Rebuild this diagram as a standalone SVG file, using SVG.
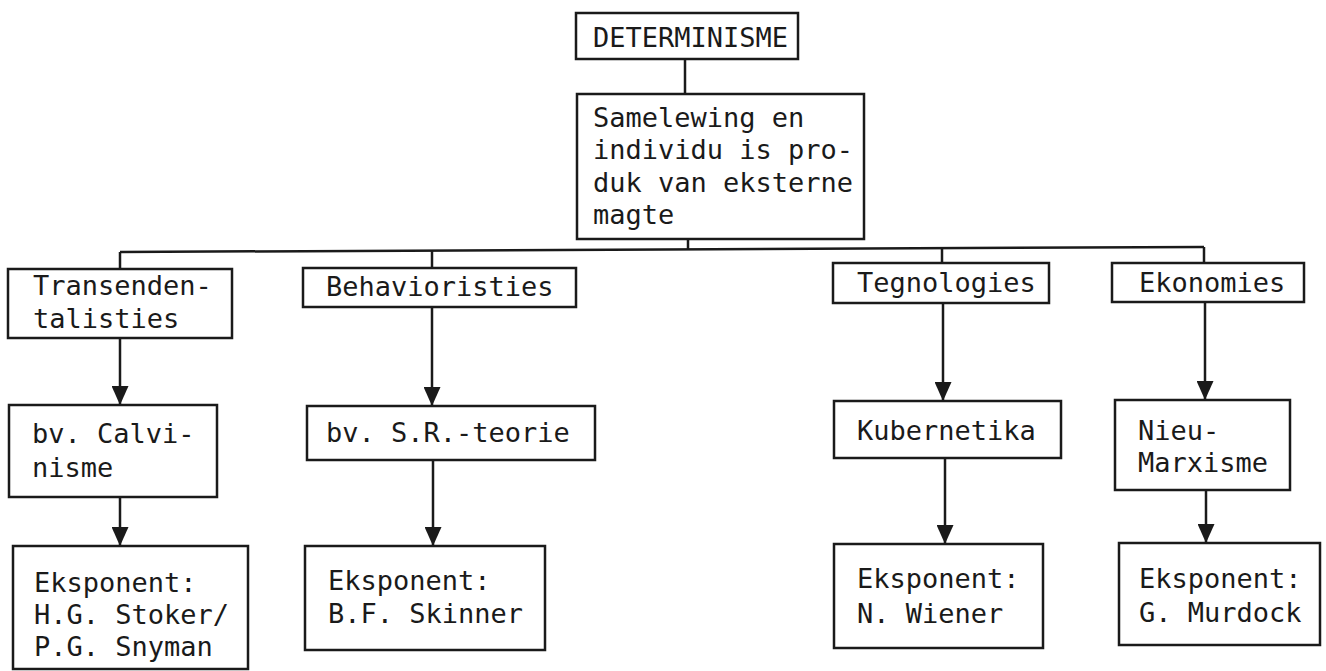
<svg xmlns="http://www.w3.org/2000/svg" width="1326" height="671" viewBox="0 0 1326 671">
<defs>
<style>
.box{fill:#fff;stroke:#1a1a1a;stroke-width:2.5}
.t{font-family:"DejaVu Sans Mono","Liberation Mono",monospace;font-size:27px;fill:#1a1a1a}
.c{stroke:#1a1a1a;stroke-width:2.5;fill:none}
</style>
<marker id="ah" viewBox="0 0 19 17" refX="19" refY="8.5" markerWidth="19" markerHeight="17" markerUnits="userSpaceOnUse" orient="auto">
<path d="M0,0 L19,8.5 L0,17 z" fill="#1a1a1a"/>
</marker>
</defs>
<rect width="1326" height="671" fill="#fff"/>
<g id="connectors">
<line class="c" x1="685" y1="59" x2="685" y2="94"/>
<line class="c" x1="688" y1="239" x2="688" y2="250"/>
<line class="c" x1="120" y1="252" x2="1204" y2="247"/>
<line class="c" x1="120" y1="252" x2="120" y2="269"/>
<line class="c" x1="432" y1="250.6" x2="432" y2="268"/>
<line class="c" x1="942" y1="248.2" x2="942" y2="263"/>
<line class="c" x1="1204" y1="247" x2="1204" y2="263"/>
<line class="c" x1="120" y1="338" x2="120" y2="405" marker-end="url(#ah)"/>
<line class="c" x1="120" y1="497" x2="120" y2="546" marker-end="url(#ah)"/>
<line class="c" x1="432" y1="307" x2="432" y2="406" marker-end="url(#ah)"/>
<line class="c" x1="433" y1="460" x2="433" y2="546" marker-end="url(#ah)"/>
<line class="c" x1="943" y1="303" x2="943" y2="401" marker-end="url(#ah)"/>
<line class="c" x1="945" y1="458" x2="945" y2="544" marker-end="url(#ah)"/>
<line class="c" x1="1205" y1="302" x2="1205" y2="400" marker-end="url(#ah)"/>
<line class="c" x1="1206" y1="490" x2="1206" y2="543" marker-end="url(#ah)"/>
</g>
<g id="determinisme">
<rect class="box" x="576" y="13" width="222" height="46"/>
<text class="t" x="593" y="47">DETERMINISME</text>
</g>
<g id="samelewing">
<rect class="box" x="577" y="94" width="287" height="145"/>
<text class="t" x="593" y="127">Samelewing en</text>
<text class="t" x="593" y="159">individu is pro-</text>
<text class="t" x="593" y="192">duk van eksterne</text>
<text class="t" x="593" y="224">magte</text>
</g>
<g id="transendentalisties">
<rect class="box" x="8" y="269" width="224" height="69"/>
<text class="t" x="33" y="295">Transenden-</text>
<text class="t" x="33" y="328">talisties</text>
</g>
<g id="behavioristies">
<rect class="box" x="303" y="268" width="273" height="39"/>
<text class="t" x="326" y="296">Behavioristies</text>
</g>
<g id="tegnologies">
<rect class="box" x="833" y="263" width="216" height="40"/>
<text class="t" x="857" y="292">Tegnologies</text>
</g>
<g id="ekonomies">
<rect class="box" x="1112" y="263" width="192" height="39"/>
<text class="t" x="1139" y="292">Ekonomies</text>
</g>
<g id="calvinisme">
<rect class="box" x="9" y="405" width="208" height="92"/>
<text class="t" x="32" y="443">bv. Calvi-</text>
<text class="t" x="32" y="477">nisme</text>
</g>
<g id="sr-teorie">
<rect class="box" x="307" y="406" width="288" height="54"/>
<text class="t" x="326" y="442">bv. S.R.-teorie</text>
</g>
<g id="kubernetika">
<rect class="box" x="834" y="401" width="227" height="57"/>
<text class="t" x="857" y="440">Kubernetika</text>
</g>
<g id="nieu-marxisme">
<rect class="box" x="1115" y="400" width="175" height="90"/>
<text class="t" x="1138" y="440">Nieu-</text>
<text class="t" x="1138" y="472">Marxisme</text>
</g>
<g id="stoker">
<rect class="box" x="13" y="546" width="235" height="123"/>
<text class="t" x="34" y="592">Eksponent:</text>
<text class="t" x="34" y="624">H.G. Stoker/</text>
<text class="t" x="34" y="656">P.G. Snyman</text>
</g>
<g id="skinner">
<rect class="box" x="305" y="546" width="240" height="104"/>
<text class="t" x="328" y="590">Eksponent:</text>
<text class="t" x="328" y="623">B.F. Skinner</text>
</g>
<g id="wiener">
<rect class="box" x="834" y="544" width="209" height="104"/>
<text class="t" x="857" y="588">Eksponent:</text>
<text class="t" x="857" y="623">N. Wiener</text>
</g>
<g id="murdock">
<rect class="box" x="1119" y="543" width="201" height="102"/>
<text class="t" x="1139" y="588">Eksponent:</text>
<text class="t" x="1139" y="622">G. Murdock</text>
</g>
</svg>
